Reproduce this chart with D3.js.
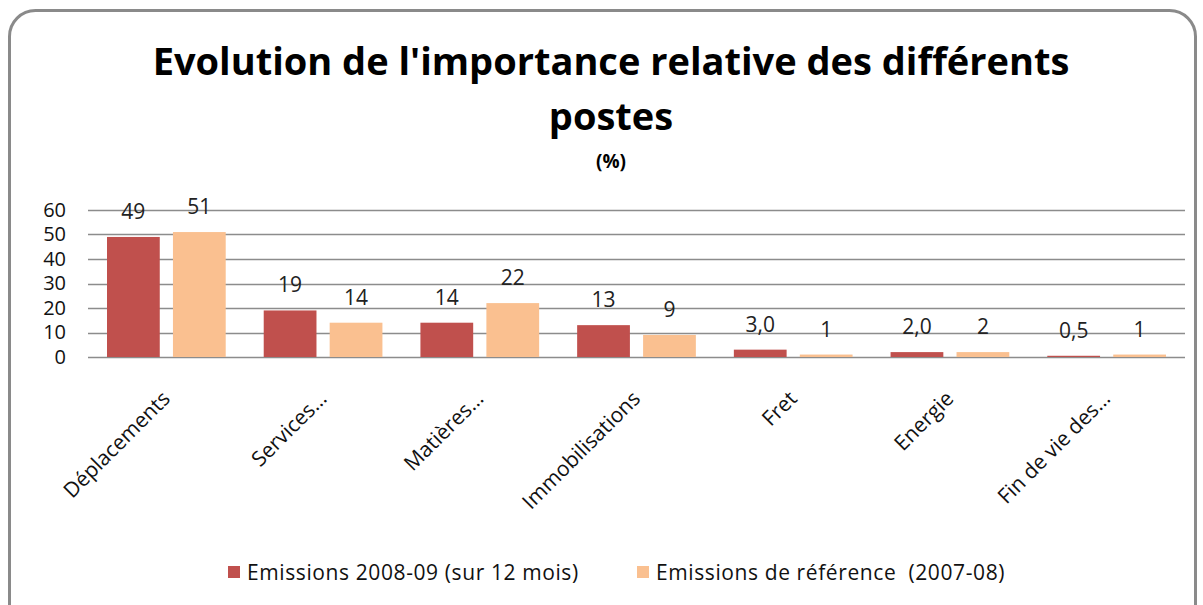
<!DOCTYPE html>
<html>
<head>
<meta charset="utf-8">
<script src="https://cdn.jsdelivr.net/npm/d3@7"></script>
<style>
  body { margin: 0; background: #fff; }
  svg { font-family: "Open Sans", sans-serif; }
</style>
</head>
<body>
<div id="chart"></div>
<script>
// data
var categories = ["Déplacements", "Services…", "Matières…", "Immobilisations", "Fret", "Energie", "Fin de vie des…"];
var emissions0809 = [49, 19, 14, 13, 3.0, 2.0, 0.5];
var emissionsRef = [51, 14, 22, 9, 1, 2, 1];
var labels0809 = ["49", "19", "14", "13", "3,0", "2,0", "0,5"];
var labelsRef = ["51", "14", "22", "9", "1", "2", "1"];
var seriesNames = ["Emissions 2008-09 (sur 12 mois)", "Emissions de référence  (2007-08)"];
var yTicks = [0, 10, 20, 30, 40, 50, 60];

var colors = ["#c0504d", "#fac090"];

var W = 1203, H = 605;
var margin = {top: 210, left: 88, right: 18, bottom: 248};
var width = W - margin.left - margin.right,
    height = H - margin.top - margin.bottom;

var svg = d3.select("#chart").append("svg")
    .attr("width", W)
    .attr("height", H);

// rounded frame
svg.append("rect")
    .attr("x", 9.5).attr("y", 10.5)
    .attr("width", 1186).attr("height", 640)
    .attr("rx", 26).attr("ry", 26)
    .attr("fill", "#fff")
    .attr("stroke", "#8a8a8a")
    .attr("stroke-width", 3);

// title
svg.append("text")
    .attr("x", 611).attr("y", 75)
    .attr("text-anchor", "middle")
    .attr("font-size", 38).attr("font-weight", "bold")
    .text("Evolution de l'importance relative des différents");
svg.append("text")
    .attr("x", 611).attr("y", 130)
    .attr("text-anchor", "middle")
    .attr("font-size", 38).attr("font-weight", "bold")
    .text("postes");
svg.append("text")
    .attr("x", 611).attr("y", 168)
    .attr("text-anchor", "middle")
    .attr("font-size", 19).attr("font-weight", "bold")
    .text("(%)");

var g = svg.append("g")
    .attr("transform", "translate(" + margin.left + "," + margin.top + ")");

var x = d3.scaleBand()
    .domain(categories)
    .range([0, width]);

var xInner = d3.scaleBand()
    .domain([0, 1])
    .range([19, x.bandwidth() - 19])
    .paddingInner(0.2);

var y = d3.scaleLinear()
    .domain([0, 60])
    .range([height, 0]);

// gridlines
g.append("g")
    .selectAll("line")
    .data(yTicks)
    .enter().append("line")
    .attr("x1", 0).attr("x2", width)
    .attr("y1", function(d) { return Math.round(y(d)) + 0.5; })
    .attr("y2", function(d) { return Math.round(y(d)) + 0.5; })
    .attr("stroke", "#8c8c8c")
    .attr("stroke-width", 1.5);

// y axis labels
var yAxis = g.append("g")
    .attr("transform", "translate(-22,0)")
    .call(d3.axisLeft(y).tickValues(yTicks).tickSize(0).tickPadding(0));
yAxis.select(".domain").remove();
yAxis.selectAll("text")
    .attr("font-size", 20)
    .attr("font-family", "'Open Sans', sans-serif")
    .attr("fill", "#111");

var series = [
    {values: emissions0809, labels: labels0809},
    {values: emissionsRef, labels: labelsRef}
];

series.forEach(function(s, si) {
    var grp = g.append("g");
    grp.selectAll("rect")
        .data(categories)
        .enter().append("rect")
        .attr("x", function(d) { return x(d) + xInner(si); })
        .attr("width", xInner.bandwidth())
        .attr("y", function(d, i) { return y(s.values[i]); })
        .attr("height", function(d, i) { return height - y(s.values[i]); })
        .attr("fill", colors[si]);

    grp.selectAll("text")
        .data(categories)
        .enter().append("text")
        .attr("x", function(d) { return x(d) + xInner(si) + xInner.bandwidth() / 2; })
        .attr("y", function(d, i) { return y(s.values[i]) - 18; })
        .attr("text-anchor", "middle")
        .attr("font-size", 21)
        .attr("fill", "#222")
        .text(function(d, i) { return s.labels[i]; });
});

// category labels, rotated
g.append("g")
    .selectAll("text")
    .data(categories)
    .enter().append("text")
    .attr("transform", function(d) {
        return "translate(" + (x(d) + x.bandwidth() / 2 + 5) + "," + (height + 43) + ") rotate(-45)";
    })
    .attr("text-anchor", "end")
    .attr("font-size", 21)
    .attr("fill", "#111")
    .text(function(d) { return d; });

// legend
var legendPos = [228, 637];
var legend = svg.append("g");
legend.selectAll("rect")
    .data(seriesNames)
    .enter().append("rect")
    .attr("x", function(d, i) { return legendPos[i]; })
    .attr("y", 566)
    .attr("width", 12).attr("height", 12)
    .attr("fill", function(d, i) { return colors[i]; });
legend.selectAll("text")
    .data(seriesNames)
    .enter().append("text")
    .attr("x", function(d, i) { return legendPos[i] + 19; })
    .attr("y", 580)
    .attr("font-size", 21)
    .attr("letter-spacing", 0.6)
    .attr("fill", "#111")
    .attr("xml:space", "preserve")
    .text(function(d) { return d; });
</script>
</body>
</html>
